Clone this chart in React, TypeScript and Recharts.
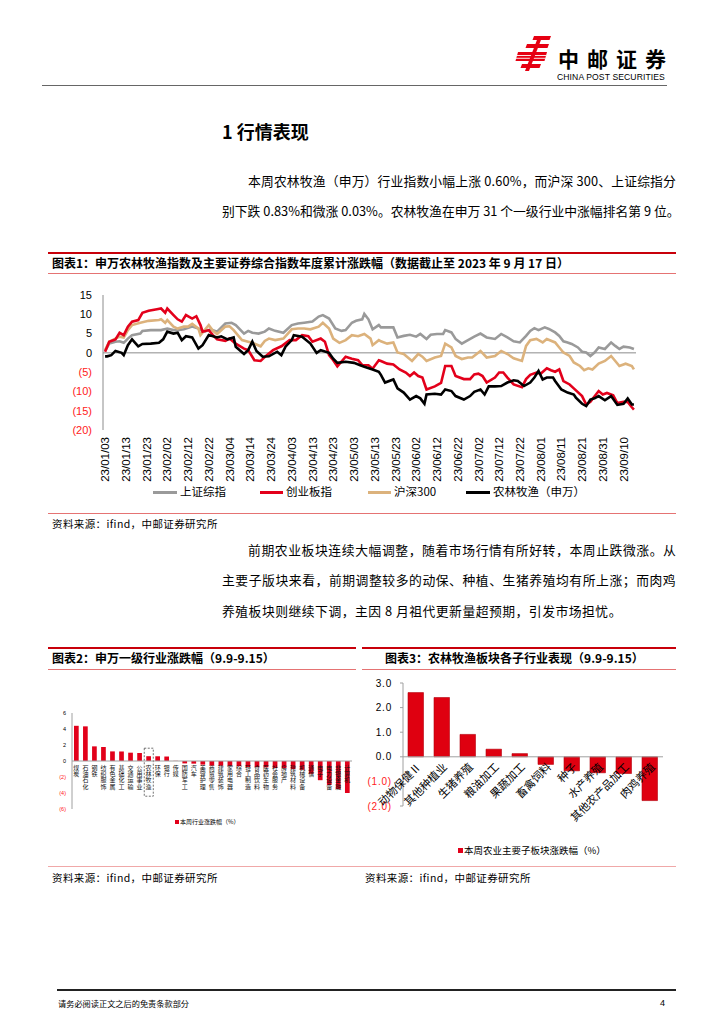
import React from 'react';
import {
  LineChart, Line, XAxis, YAxis, ReferenceLine, BarChart, Bar, LabelList, ReferenceArea,
} from 'recharts';

const CJK = '"Noto Sans CJK SC", "Noto Sans", sans-serif';
const LAT = '"Liberation Sans", Arial, sans-serif';

// ---------- Chart 1: cumulative change (%) since 2023-01-03, [day offset, value] ----------
const dateTickLabels = [
  '23/01/03', '23/01/13', '23/01/23', '23/02/02', '23/02/12', '23/02/22', '23/03/04',
  '23/03/14', '23/03/24', '23/04/03', '23/04/13', '23/04/23', '23/05/03', '23/05/13',
  '23/05/23', '23/06/02', '23/06/12', '23/06/22', '23/07/02', '23/07/12', '23/07/22',
  '23/08/01', '23/08/11', '23/08/21', '23/08/31', '23/09/10',
];
const yTicks1 = [-20, -15, -10, -5, 0, 5, 10, 15];

const shComposite: [number, number][] = [
  [0, 0.5], [2, 2.4], [5, 2.9], [7, 3.0], [9, 2.6], [11, 3.7], [13, 4.6], [17, 5.0], [18, 5.7],
  [22, 5.9], [27, 5.9], [30, 6.3], [33, 5.9], [35, 5.9], [38, 6.1], [42, 6.8], [45, 6.3],
  [48, 5.5], [51, 6.1], [54, 5.5], [58, 7.6], [61, 7.8], [63, 7.2], [67, 5.0], [69, 5.7],
  [71, 5.2], [74, 5.0], [77, 5.5], [79, 6.3], [82, 5.7], [86, 5.2], [90, 7.2], [93, 7.6],
  [96, 7.8], [100, 8.1], [103, 9.4], [105, 9.8], [108, 8.9], [111, 6.3], [114, 5.7],
  [116, 5.9], [119, 7.8], [121, 8.3], [124, 8.7], [125, 10.1], [127, 8.7], [129, 6.1],
  [132, 7.2], [133, 6.6], [136, 6.6], [139, 6.6], [141, 4.0], [144, 4.4], [147, 4.7],
  [150, 4.2], [152, 4.9], [155, 3.6], [157, 4.7], [160, 4.9], [163, 4.9], [164, 5.9],
  [167, 5.3], [169, 3.6], [172, 2.4], [175, 3.3], [178, 4.2], [181, 5.0], [184, 4.0],
  [188, 3.6], [191, 4.9], [194, 4.0], [197, 3.0], [200, 2.7], [203, 4.4], [205, 5.7],
  [207, 6.4], [209, 5.9], [212, 6.6], [214, 6.2], [217, 5.3], [219, 4.4], [221, 3.0],
  [223, 2.7], [225, 2.3], [228, 1.4], [230, 0.3], [232, 0.1], [234, -0.8], [236, 0.1],
  [238, 1.4], [241, 1.0], [244, 2.7], [246, 1.8], [248, 1.0], [250, 1.6], [253, 1.4], [255, 1.0],
];

const chinext: [number, number][] = [
  [0, 0.3], [2, 2.9], [5, 3.5], [7, 5.2], [9, 4.6], [11, 6.8], [13, 8.1], [16, 8.5], [18, 10.4],
  [21, 10.9], [25, 11.3], [27, 11.5], [29, 10.4], [30, 11.5], [33, 9.8], [35, 8.7], [37, 8.1],
  [39, 9.8], [42, 8.9], [44, 9.5], [46, 7.2], [47, 5.5], [50, 5.9], [52, 4.6], [54, 3.5],
  [58, 3.1], [60, 3.7], [63, 2.4], [67, 1.1], [69, 0.7], [72, -1.9], [75, -2.1], [78, -0.6],
  [81, 0.7], [85, 1.7], [89, 3.3], [92, 3.3], [95, 4.6], [98, 4.3], [100, 2.9], [104, 3.7],
  [106, 2.9], [108, -0.6], [110, -1.9], [112, -3.5], [116, -1.0], [119, -1.5], [122, -1.9],
  [124, -3.2], [127, -3.2], [129, -4.1], [132, -1.9], [133, -2.1], [136, -2.8], [139, -3.0],
  [142, -4.3], [145, -5.1], [147, -6.0], [149, -5.1], [151, -6.0], [153, -6.4], [155, -9.5],
  [159, -8.7], [162, -7.8], [164, -3.4], [167, -3.4], [169, -6.0], [173, -6.8], [176, -6.8],
  [178, -5.6], [180, -5.4], [182, -6.0], [184, -7.7], [188, -6.4], [190, -5.1], [192, -5.1],
  [194, -6.4], [197, -8.2], [201, -8.9], [203, -6.8], [205, -5.7], [208, -5.1], [210, -5.4],
  [213, -4.0], [215, -4.5], [217, -4.9], [219, -4.3], [221, -7.3], [224, -8.2], [226, -9.2],
  [230, -11.2], [232, -13.4], [234, -12.7], [238, -9.9], [240, -10.8], [242, -10.4],
  [245, -11.0], [247, -13.0], [250, -12.7], [252, -12.7], [254, -14.1], [255, -14.7],
];

const csi300: [number, number][] = [
  [0, 0.7], [2, 2.9], [5, 3.7], [7, 4.2], [9, 4.0], [11, 5.9], [13, 7.2], [17, 7.8], [21, 8.3],
  [26, 8.5], [27, 8.7], [29, 7.8], [30, 8.5], [33, 6.8], [35, 6.3], [38, 6.8], [40, 6.8],
  [42, 7.5], [45, 6.3], [46, 4.6], [50, 7.2], [52, 5.7], [54, 4.9], [58, 6.8], [60, 6.9],
  [62, 5.9], [66, 3.3], [69, 2.9], [71, 2.6], [75, 1.7], [77, 3.1], [79, 3.7], [82, 3.3],
  [86, 3.7], [90, 6.1], [93, 6.3], [96, 6.3], [99, 6.1], [103, 6.8], [105, 7.8], [108, 6.3],
  [110, 3.7], [113, 2.6], [116, 3.3], [119, 4.6], [122, 4.3], [125, 4.9], [128, 3.7],
  [129, 2.0], [132, 3.3], [133, 3.0], [136, 2.4], [139, 2.7], [141, 0.1], [144, -0.3],
  [148, -2.1], [151, -0.3], [153, -1.0], [155, -2.1], [159, -1.2], [162, -0.8], [164, 2.4],
  [167, 1.4], [169, -0.8], [172, -1.6], [175, -1.2], [177, -1.2], [181, 0.5], [184, -1.2],
  [188, -0.8], [191, 0.5], [194, -0.3], [197, -1.4], [201, -2.1], [203, 1.8], [205, 3.3],
  [208, 3.6], [211, 2.7], [213, 3.6], [217, 2.7], [219, 1.4], [221, 0.1], [224, -0.8],
  [226, -2.5], [229, -3.4], [231, -4.5], [233, -4.0], [235, -4.3], [238, -2.8], [241, -2.1],
  [244, -0.8], [246, -2.1], [248, -3.4], [251, -2.8], [254, -3.4], [255, -4.3],
];

const agriSW: [number, number][] = [
  [0, -0.9], [1, -0.9], [3, -0.6], [5, 0.5], [8, 0.0], [9, -0.6], [11, 2.0], [13, 3.5],
  [16, 1.7], [18, 2.3], [22, 2.4], [26, 2.6], [28, 3.5], [30, 5.5], [33, 5.0], [35, 5.2],
  [37, 3.3], [39, 4.3], [42, 4.0], [45, 1.1], [47, 2.0], [50, 4.6], [54, 4.0], [56, 4.3],
  [59, 3.5], [62, 4.0], [63, 1.6], [67, -0.3], [69, 0.7], [71, 2.9], [73, 0.5], [76, -1.0],
  [79, -0.9], [83, 0.3], [85, -0.6], [87, 1.6], [90, 3.3], [91, 4.6], [95, 4.2], [99, 2.4],
  [102, 0.0], [104, 0.7], [108, 0.0], [110, -1.5], [112, -2.6], [116, -2.3], [120, -2.6],
  [123, -3.2], [125, -3.6], [129, -4.3], [132, -4.9], [133, -5.7], [135, -7.7], [139, -6.9],
  [141, -9.2], [144, -10.3], [147, -12.1], [150, -11.2], [152, -11.8], [154, -13.2],
  [155, -10.8], [159, -10.6], [162, -10.8], [164, -9.5], [167, -9.9], [169, -11.2],
  [173, -12.1], [176, -11.2], [178, -10.1], [181, -9.5], [183, -10.8], [185, -8.7],
  [188, -8.7], [191, -8.6], [194, -7.7], [197, -7.1], [199, -7.3], [202, -8.6], [205, -7.7],
  [207, -6.4], [209, -4.7], [211, -6.9], [213, -6.4], [216, -6.4], [217, -7.3], [220, -9.5],
  [223, -10.3], [226, -10.8], [227, -11.6], [230, -13.2], [232, -13.8], [234, -12.1],
  [236, -11.8], [238, -11.2], [241, -12.3], [244, -11.2], [247, -13.5], [250, -13.2],
  [252, -11.8], [254, -13.4], [255, -13.4],
];

// ---------- Chart 2: SW level-1 industries weekly change (%) ----------
const industryNames = [
  '煤炭', '石油石化', '钢铁', '纺织服饰', '有色金属', '基础化工', '交通运输', '公用事业',
  '农林牧渔', '环保', '银行', '传媒', '国防军工', '汽车', '美容护理', '商贸零售', '建筑装饰',
  '家用电器', '综合', '轻工制造', '食品饮料', '医药生物', '社会服务', '房地产', '建筑材料',
  '机械设备', '通信', '电子', '电力设备', '非银金融', '计算机',
];
const industryChange = [
  4.4, 4.33, 1.83, 1.75, 1.2, 1.19, 1.04, 1.0, 0.6, 0.59, 0.56, 0.02, -0.3, -0.33, -0.45,
  -0.58, -0.59, -0.6, -0.65, -0.75, -0.76, -0.8, -0.88, -0.9, -1.0, -1.1, -1.6, -2.4, -3.0,
  -3.5, -4.0,
];
const yTicks2 = [-6, -4, -2, 0, 2, 4, 6];

// ---------- Chart 3: agriculture sub-sectors weekly change (%) ----------
const subNames = [
  '动物保健Ⅱ', '其他种植业', '生猪养殖', '粮油加工', '果蔬加工', '畜禽饲料', '种子',
  '水产养殖', '其他农产品加工', '肉鸡养殖',
];
const subChange = [2.61, 2.41, 0.91, 0.31, 0.13, -0.31, -0.57, -0.65, -0.68, -1.78];
const yTicks3 = [-2, -1, 0, 1, 2, 3];

const industryData = industryNames.map((name, i) => ({ name, value: industryChange[i] }));
const subData = subNames.map((name, i) => ({ name, value: subChange[i] }));
const toPts = (arr: [number, number][]) => arr.map(([day, v]) => ({ day, v }));
const xTicks1 = dateTickLabels.map((_, i) => i * 10);

const RED = '#e2001a';
const NEG = '#ff1a1a';

const paren = (v: number, digits: number) =>
  v < 0 ? `(${Math.abs(v).toFixed(digits)})` : v.toFixed(digits);

const ParenTick = (p: any) => {
  const { x, y, payload, size, digits, family, spacing } = p;
  const v = payload.value as number;
  return (
    <text x={x} y={y} dy="0.35em" textAnchor="end" fontSize={size} fontFamily={family || LAT}
      letterSpacing={spacing || 0} fill={v < 0 ? NEG : '#000'}>
      {paren(v, digits)}
    </text>
  );
};

const DateTick = (p: any) => {
  const { x, y, payload } = p;
  const label = dateTickLabels[Math.round(payload.value / 10)] || '';
  return (
    <text x={x} y={y} dy="0.36em" textAnchor="end" fontSize={11.5} fontFamily={LAT} fill="#000"
      transform={`rotate(-90 ${x} ${y})`}>
      {label}
    </text>
  );
};

const rectOf = (p: any) => {
  const vb = p.viewBox && typeof p.viewBox.x === 'number' ? p.viewBox : p;
  return { x: vb.x as number, y: vb.y as number, w: vb.width as number, h: vb.height as number };
};

const StackLabel = (p: any) => {
  const name = String(p.value);
  const idx = industryNames.indexOf(name);
  const v = industryChange[idx] ?? 0;
  const r = rectOf(p);
  const zeroY = v >= 0 ? Math.max(r.y, r.y + r.h) : Math.min(r.y, r.y + r.h);
  const cx = r.x + r.w / 2;
  return (
    <text x={cx} y={zeroY + 3.5} fontSize={6} fontFamily={CJK} fill="#111"
      style={{ writingMode: 'vertical-rl' as any, letterSpacing: 0.3 }}>
      {name}
    </text>
  );
};

const DiagLabel = (p: any) => {
  const name = String(p.value);
  const idx = subNames.indexOf(name);
  const v = subChange[idx] ?? 0;
  const r = rectOf(p);
  const zeroY = v >= 0 ? Math.max(r.y, r.y + r.h) : Math.min(r.y, r.y + r.h);
  const px = r.x + r.w / 2 + 6;
  const py = zeroY + 11;
  return (
    <text x={px} y={py} textAnchor="end" fontSize={11} fontFamily={CJK} fill="#000"
      transform={`rotate(-45 ${px} ${py})`}>{name}</text>
  );
};

const T = ({ left, top, size, children, bold, color, family, spacing, width, align }: any) => (
  <div style={{
    position: 'absolute', left, top, fontSize: size, lineHeight: 1, whiteSpace: 'pre',
    fontWeight: bold ? 700 : 400, color: color || '#000', fontFamily: family || CJK,
    letterSpacing: spacing || 0, width, textAlign: align,
  }}>{children}</div>
);

const JLine = ({ left, top, width, size, text }: any) => (
  <div style={{
    position: 'absolute', left, top, width, display: 'flex', justifyContent: 'space-between',
    fontSize: size, lineHeight: 1, whiteSpace: 'pre', fontFamily: CJK, color: '#000',
  }}>
    {Array.from(String(text)).map((c, i) => <span key={i}>{c}</span>)}
  </div>
);

const HLine = ({ left, top, width, h, color }: any) => (
  <div style={{ position: 'absolute', left, top, width, height: h, background: color }} />
);

const LegendItem = ({ left, top, color, label, lineW }: any) => (
  <div style={{ position: 'absolute', left, top, display: 'flex', alignItems: 'center', height: 14 }}>
    <div style={{ width: lineW, height: 3, background: color, marginRight: 3 }} />
    <span style={{ fontSize: 11.5, fontFamily: CJK, lineHeight: 1, color: '#000', whiteSpace: 'pre' }}>{label}</span>
  </div>
);

const Logo = () => (
  <svg style={{ position: 'absolute', left: 0, top: 0 }} width={724} height={100}>
    <polygon points="534,36 551,36 549.5,40 532.5,40" fill="#e60012" />
    <polygon points="527,44 549,44 547.5,48 525.5,48" fill="#e60012" />
    <polygon points="518,52 547,52 544.5,61 515.5,61" fill="#e60012" />
    <rect x={516} y={55} width={30} height={0.9} fill="#fff" />
    <rect x={515.5} y={57.8} width={30} height={0.9} fill="#fff" />
    <polygon points="522,64 541,64 539.5,68 520.5,68" fill="#e60012" />
    <polygon points="538.5,36 542.5,36 529,71 525,71" fill="#e60012" />
  </svg>
);

const Chart1 = () => (
  <div style={{ position: 'absolute', left: 40, top: 285 }}>
    <LineChart width={620} height={207} margin={{ top: 10, right: 24, bottom: 0, left: 0 }}>
      <XAxis type="number" dataKey="day" domain={[-1, 256]} ticks={xTicks1} interval={0}
        minTickGap={0} tickFormatter={() => ''}
        tick={(p: any) => <DateTick {...p} />} tickLine={false} axisLine={false}
        height={62} tickSize={3} tickMargin={4} allowDataOverflow />
      <YAxis type="number" domain={[-20, 15]} ticks={yTicks1} interval={0} width={63}
        tick={(p: any) => <ParenTick {...p} size={11} digits={0} />} tickLine={false}
        axisLine={{ stroke: '#8c8c8c' }} tickSize={6} tickMargin={5} allowDataOverflow />
      <ReferenceLine y={0} stroke="#8c8c8c" strokeWidth={1} />
      <Line data={toPts(shComposite)} dataKey="v" type="linear" stroke="#9a9a9a" strokeWidth={2.6}
        dot={false} isAnimationActive={false} />
      <Line data={toPts(csi300)} dataKey="v" type="linear" stroke="#dcb27c" strokeWidth={2.6}
        dot={false} isAnimationActive={false} />
      <Line data={toPts(chinext)} dataKey="v" type="linear" stroke="#e3001b" strokeWidth={2.6}
        dot={false} isAnimationActive={false} />
      <Line data={toPts(agriSW)} dataKey="v" type="linear" stroke="#000" strokeWidth={2.6}
        dot={false} isAnimationActive={false} />
    </LineChart>
  </div>
);

const Chart2 = () => (
  <div style={{ position: 'absolute', left: 50, top: 703 }}>
    <BarChart width={310} height={120} data={industryData} barSize={4.7}
      margin={{ top: 10, right: 8, bottom: 14, left: 0 }}>
      <XAxis dataKey="name" hide />
      <YAxis domain={[-6, 6]} ticks={yTicks2} interval={0} width={22}
        tick={(p: any) => <ParenTick {...p} size={5.5} digits={0} />} tickLine={false}
        axisLine={{ stroke: '#a0a0a0' }} tickSize={3} tickMargin={3} />
      <ReferenceLine y={0} stroke="#a0a0a0" strokeWidth={1} />
      <Bar dataKey="value" fill={RED} isAnimationActive={false}>
        <LabelList dataKey="name" content={(p: any) => <StackLabel {...p} />} />
      </Bar>
      <ReferenceArea x1="农林牧渔" x2="农林牧渔" y1={-4.4} y2={1.6} fill="#fff" fillOpacity={0}
        stroke="#333" strokeWidth={0.7} strokeDasharray="2 1.5" ifOverflow="visible" />
    </BarChart>
  </div>
);

const Chart3 = () => (
  <div style={{ position: 'absolute', left: 362, top: 672 }}>
    <BarChart width={310} height={160} data={subData} barSize={15.5}
      margin={{ top: 11, right: 9, bottom: 26, left: 0 }}>
      <XAxis dataKey="name" hide />
      <YAxis domain={[-2, 3]} ticks={yTicks3} interval={0} width={41}
        tick={(p: any) => <ParenTick {...p} size={10} digits={1} spacing={0.8} />}
        tickLine={{ stroke: '#a0a0a0' }} axisLine={{ stroke: '#a0a0a0' }} tickSize={3} tickMargin={8} />
      <ReferenceLine y={0} stroke="#a0a0a0" strokeWidth={1} />
      <Bar dataKey="value" fill="#df0010" stroke="#b3000c" strokeWidth={0.6} isAnimationActive={false}>
        <LabelList dataKey="name" content={(p: any) => <DiagLabel {...p} />} />
      </Bar>
    </BarChart>
  </div>
);

export default function App() {
  return (
    <div style={{ position: 'absolute', left: 0, top: 0, width: 724, height: 1024, background: '#fff', overflow: 'hidden' }}>
      <Logo />
      <T left={558} top={48} size={21} bold spacing={8}>中邮证券</T>
      <T left={557} top={73} size={8.6} family={LAT} spacing={0.1}>CHINA POST SECURITIES</T>
      <HLine left={42} top={85} width={625} h={1} color="#666" />

      <T left={222} top={122} size={18} bold>1 行情表现</T>
      <JLine left={248} top={174.6} width={428} size={12.8}
        text="本周农林牧渔（申万）行业指数小幅上涨 0.60%，而沪深 300、上证综指分" />
      <JLine left={222} top={204.6} width={454} size={12.8}
        text="别下跌 0.83%和微涨 0.03%。农林牧渔在申万 31 个一级行业中涨幅排名第 9 位。" />

      <HLine left={48} top={252} width={628} h={2} color="#c8000a" />
      <T left={52} top={257} size={12} bold>图表1：申万农林牧渔指数及主要证券综合指数年度累计涨跌幅（数据截止至 2023 年 9 月 17 日）</T>
      <HLine left={48} top={273} width={628} h={1} color="#e57373" />

      <Chart1 />
      <LegendItem left={153} top={485} color="#9a9a9a" label="上证综指" lineW={24} />
      <LegendItem left={260} top={485} color="#e3001b" label="创业板指" lineW={23} />
      <LegendItem left={368} top={485} color="#dcb27c" label="沪深300" lineW={23} />
      <LegendItem left={466} top={485} color="#000" label="农林牧渔（申万）" lineW={24} />

      <HLine left={48} top={513} width={628} h={1} color="#e57373" />
      <T left={52} top={519} size={10.5} spacing={0.4}>资料来源：ifind，中邮证券研究所</T>

      <JLine left={248} top={543.6} width={428} size={12.8}
        text="前期农业板块连续大幅调整，随着市场行情有所好转，本周止跌微涨。从" />
      <JLine left={222} top={573.6} width={454} size={12.8}
        text="主要子版块来看，前期调整较多的动保、种植、生猪养殖均有所上涨；而肉鸡" />
      <T left={222} top={604.6} size={12.8} spacing={0.5}>养殖板块则继续下调，主因 8 月祖代更新量超预期，引发市场担忧。</T>

      <HLine left={48} top={647} width={308} h={2} color="#c8000a" />
      <HLine left={362} top={647} width={314} h={2} color="#c8000a" />
      <T left={52} top={652} size={12} bold>图表2：申万一级行业涨跌幅（9.9-9.15）</T>
      <T left={385} top={652} size={12} bold>图表3：农林牧渔板块各子行业表现（9.9-9.15）</T>
      <HLine left={48} top={669} width={308} h={1} color="#e57373" />
      <HLine left={362} top={669} width={314} h={1} color="#e57373" />

      <Chart2 />
      <div style={{ position: 'absolute', left: 175, top: 820, width: 4, height: 4, background: RED }} />
      <T left={180} top={819} size={6}>本周行业涨跌幅（%）</T>

      <Chart3 />
      <div style={{ position: 'absolute', left: 458, top: 848, width: 5, height: 5, background: RED }} />
      <T left={464} top={846} size={9.5}>本周农业主要子板块涨跌幅（%）</T>

      <HLine left={48} top={866} width={628} h={1} color="#f0a8a8" />
      <T left={52} top={873} size={10.5} spacing={0.4}>资料来源：ifind，中邮证券研究所</T>
      <T left={365} top={873} size={10.5} spacing={0.4}>资料来源：ifind，中邮证券研究所</T>

      <HLine left={57} top={989} width={619} h={1.5} color="#222" />
      <T left={58} top={998.5} size={8.2}>请务必阅读正文之后的免责条款部分</T>
      <T left={660} top={998.5} size={9} family={LAT}>4</T>
    </div>
  );
}
